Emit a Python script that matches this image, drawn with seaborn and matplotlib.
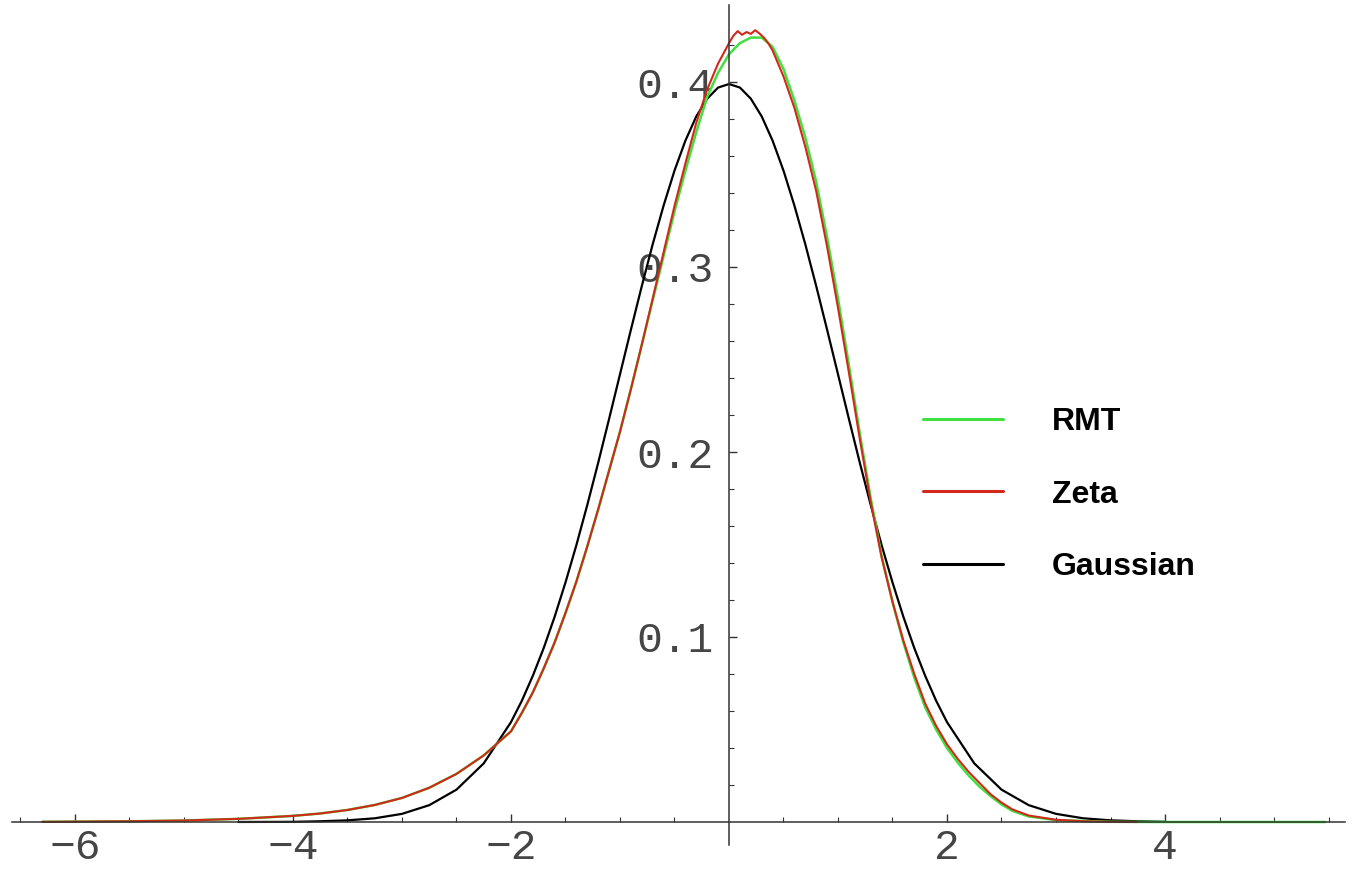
import numpy as np
import matplotlib
matplotlib.use("Agg")
import matplotlib.pyplot as plt
from matplotlib.ticker import FixedLocator
import seaborn as sns

# values
ZETA_X = [-6.3, -6.0, -5.5, -5.0, -4.5, -4.0, -3.75, -3.5, -3.25, -3.0, -2.75, -2.5, -2.25,
          -2.0, -1.9, -1.8, -1.7, -1.6, -1.5, -1.4, -1.3, -1.2, -1.1,
          -1.0, -0.9, -0.8, -0.7, -0.6, -0.5, -0.4, -0.3, -0.2, -0.1,
          0.0, 0.04, 0.08, 0.12, 0.16, 0.2, 0.24, 0.28, 0.32, 0.36, 0.4,
          0.5, 0.6, 0.7, 0.8, 0.9, 1.0, 1.1, 1.2, 1.3, 1.4,
          1.5, 1.6, 1.7, 1.8, 1.9, 2.0, 2.1, 2.2, 2.3, 2.4,
          2.5, 2.6, 2.75, 3.0, 3.25, 3.5, 3.74]
ZETA_Y = [0.0001, 0.0002, 0.0004, 0.0008, 0.0017, 0.0033, 0.0046, 0.0065, 0.0092, 0.013, 0.0185, 0.026, 0.036,
          0.049, 0.059, 0.070, 0.083, 0.097, 0.113, 0.130, 0.149, 0.169, 0.190,
          0.211, 0.234, 0.258, 0.283, 0.308, 0.333, 0.356, 0.378, 0.396, 0.410,
          0.421, 0.425, 0.4275, 0.4255, 0.427, 0.426, 0.428, 0.4262, 0.424, 0.421, 0.417,
          0.403, 0.386, 0.365, 0.341, 0.311, 0.278, 0.243, 0.207, 0.173, 0.143,
          0.119, 0.098, 0.080, 0.064, 0.052, 0.042, 0.034, 0.027, 0.021, 0.015,
          0.0105, 0.0068, 0.0035, 0.0012, 0.0004, 0.0001, 0.0]

RMT_X = [-6.3, -6.0, -5.5, -5.0, -4.5, -4.0, -3.75, -3.5, -3.25, -3.0, -2.75, -2.5, -2.25,
         -2.0, -1.9, -1.8, -1.7, -1.6, -1.5, -1.4, -1.3, -1.2, -1.1,
         -1.0, -0.9, -0.8, -0.7, -0.6, -0.5, -0.4, -0.3, -0.2, -0.1,
         0.0, 0.1, 0.2, 0.3, 0.4, 0.5, 0.6, 0.7, 0.8, 0.9,
         1.0, 1.1, 1.2, 1.3, 1.4, 1.5, 1.6, 1.7, 1.8, 1.9,
         2.0, 2.1, 2.2, 2.3, 2.4, 2.5, 2.6, 2.75, 3.0, 3.5,
         4.0, 4.5, 5.0, 5.47]
RMT_Y = [0.0001, 0.0002, 0.0004, 0.0008, 0.0017, 0.0033, 0.0046, 0.0065, 0.0092, 0.013, 0.0185, 0.026, 0.036,
         0.049, 0.059, 0.070, 0.083, 0.097, 0.113, 0.130, 0.149, 0.169, 0.190,
         0.211, 0.234, 0.258, 0.282, 0.306, 0.330, 0.352, 0.373, 0.392, 0.405,
         0.415, 0.421, 0.424, 0.424, 0.419, 0.407, 0.390, 0.370, 0.346, 0.316,
         0.283, 0.247, 0.210, 0.175, 0.144, 0.119, 0.097, 0.078, 0.062, 0.050,
         0.040, 0.032, 0.025, 0.019, 0.014, 0.0095, 0.006, 0.003, 0.001, 0.0001,
         0.0, 0.0, 0.0, 0.0]

GAUSS_X = [-4.5, -4.25, -4.0, -3.75, -3.5, -3.25, -3.0, -2.75, -2.5, -2.25,
           -2.0, -1.9, -1.8, -1.7, -1.6, -1.5, -1.4, -1.3, -1.2, -1.1,
           -1.0, -0.9, -0.8, -0.7, -0.6, -0.5, -0.4, -0.3, -0.2, -0.1,
           0.0, 0.1, 0.2, 0.3, 0.4, 0.5, 0.6, 0.7, 0.8, 0.9,
           1.0, 1.1, 1.2, 1.3, 1.4, 1.5, 1.6, 1.7, 1.8, 1.9,
           2.0, 2.25, 2.5, 2.75, 3.0, 3.25, 3.5, 3.75, 4.0]
GAUSS_Y = [0.00002, 0.00005, 0.0001, 0.0004, 0.0009, 0.0020, 0.0044, 0.0091, 0.0175, 0.0317,
           0.0540, 0.0656, 0.0790, 0.0940, 0.1109, 0.1295, 0.1497, 0.1714, 0.1942, 0.2179,
           0.2420, 0.2661, 0.2897, 0.3123, 0.3332, 0.3521, 0.3683, 0.3814, 0.3910, 0.3970,
           0.3989, 0.3970, 0.3910, 0.3814, 0.3683, 0.3521, 0.3332, 0.3123, 0.2897, 0.2661,
           0.2420, 0.2179, 0.1942, 0.1714, 0.1497, 0.1295, 0.1109, 0.0940, 0.0790, 0.0656,
           0.0540, 0.0317, 0.0175, 0.0091, 0.0044, 0.0020, 0.0009, 0.0004, 0.0001]

X_TICKS = [-6, -4, -2, 2, 4]
Y_TICKS = [0.1, 0.2, 0.3, 0.4]

sns.set_style("white")

fig = plt.figure(figsize=(13.54, 8.75), dpi=100)
ax = fig.add_axes([0, 0, 1, 1])

sns.lineplot(x=GAUSS_X, y=GAUSS_Y, color="black", lw=1.6, ax=ax, label="Gaussian", sort=False)
sns.lineplot(x=RMT_X, y=RMT_Y, color="#3fe03f", lw=1.8, ax=ax, label="RMT", sort=False)
sns.lineplot(x=ZETA_X, y=ZETA_Y, color="#d2281a", lw=1.5, ax=ax, label="Zeta", sort=False)

# pixel mapping: x=0 at 729px, 109px per unit; y=0 at 822px, 1850px per unit
ax.set_xlim(-729 / 109, (1354 - 729) / 109)
ax.set_ylim(-(875 - 822) / 1850, 822 / 1850)

axis_color = "#333333"
for side in ["top", "right"]:
    ax.spines[side].set_visible(False)
ax.spines["left"].set_position(("data", 0))
ax.spines["bottom"].set_position(("data", 0))
ax.spines["left"].set_bounds(-0.0124, 0.4416)
ax.spines["bottom"].set_bounds(-6.58, 5.65)
for side in ["left", "bottom"]:
    ax.spines[side].set_color(axis_color)
    ax.spines[side].set_linewidth(1.1)

ax.xaxis.set_major_locator(FixedLocator(X_TICKS))
ax.xaxis.set_minor_locator(FixedLocator([v for v in np.arange(-6.5, 5.6, 0.5) if v % 2 != 0]))
ax.yaxis.set_major_locator(FixedLocator(Y_TICKS))
ax.yaxis.set_minor_locator(FixedLocator([round(v, 2) for v in np.arange(0.02, 0.44, 0.02) if round(v * 50) % 5 != 0]))
ax.set_xticklabels([f"\u2212{abs(t)}" if t < 0 else str(t) for t in X_TICKS])
ax.set_yticklabels([f"{t:.1f}" for t in Y_TICKS])

for lab in ax.get_xticklabels() + ax.get_yticklabels():
    lab.set_fontfamily("Liberation Mono")
    lab.set_fontsize(31)

ax.tick_params(axis="both", which="both", direction="in", colors=axis_color,
               bottom=True, left=True, top=False, right=False)
ax.tick_params(axis="both", which="major", length=6, width=1.0)
ax.tick_params(axis="both", which="minor", length=3.5, width=0.8)
ax.tick_params(axis="x", which="major", pad=4)
ax.tick_params(axis="y", which="major", pad=11)
ax.tick_params(axis="both", labelcolor="#454545")

handles, labels = ax.get_legend_handles_labels()
order = [labels.index(n) for n in ["RMT", "Zeta", "Gaussian"]]
leg = ax.legend(
    [handles[i] for i in order], [labels[i] for i in order],
    loc="upper left", bbox_to_anchor=(910 / 1354, 1 - 394 / 875),
    frameon=False, prop={"family": "Liberation Sans", "weight": "bold", "size": 23},
    handlelength=2.5, handletextpad=1.55, labelspacing=1.34, borderaxespad=0,
)
for text in leg.get_texts():
    text.set_color("black")
for line in leg.get_lines():
    line.set_linewidth(2.2)

fig.savefig("out.png", dpi=100, facecolor="white")
